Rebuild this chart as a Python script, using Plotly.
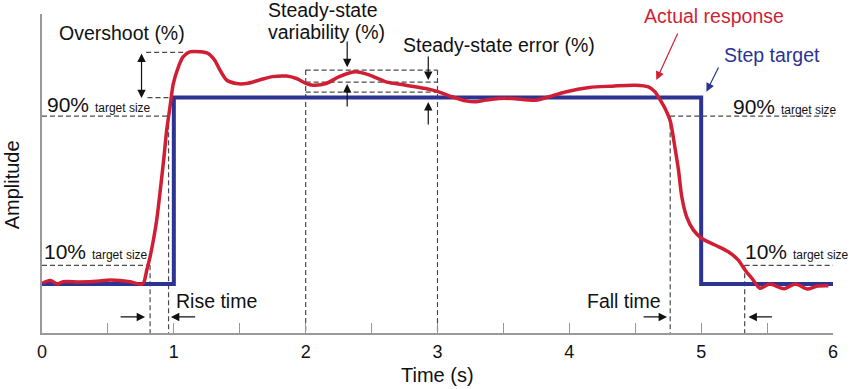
import plotly.graph_objects as go

# ---------------- data ----------------
time_s = [0.005, 0.063, 0.116, 0.161, 0.29, 0.44, 0.517, 0.668, 0.75, 0.77, 0.795, 0.82, 0.845,
          0.87, 0.90, 0.925, 0.946, 0.971, 0.996, 1.035, 1.07, 1.12, 1.20, 1.26, 1.31, 1.35,
          1.40, 1.475, 1.55, 1.65, 1.75, 1.855, 1.93, 2.005, 2.055, 2.155, 2.255, 2.38, 2.485,
          2.61, 2.76, 2.91, 3.01, 3.11, 3.215, 3.29, 3.365, 3.465, 3.565, 3.745, 3.845, 3.97,
          4.15, 4.325, 4.50, 4.60, 4.65, 4.69, 4.727, 4.765, 4.80, 4.828, 4.853, 4.89, 4.94,
          5.005, 5.105, 5.206, 5.28, 5.333, 5.395, 5.445, 5.52, 5.63, 5.715, 5.805, 5.875, 5.965]
response = [0.005, 0.018, 0.0, 0.012, 0.011, 0.016, 0.021, 0.012, -0.002, 0.005, 0.075, 0.147, 0.236,
            0.343, 0.52, 0.68, 0.826, 0.95, 1.075, 1.165, 1.218, 1.245, 1.245, 1.236, 1.20, 1.147,
            1.094, 1.075, 1.075, 1.094, 1.112, 1.115, 1.102, 1.075, 1.066, 1.075, 1.112, 1.138, 1.120,
            1.084, 1.066, 1.048, 1.030, 1.004, 0.982, 0.977, 0.986, 0.995, 0.995, 0.986, 1.004, 1.030,
            1.054, 1.061, 1.066, 1.057, 1.030, 0.986, 0.94, 0.875, 0.736, 0.611, 0.468, 0.36, 0.29,
            0.244, 0.209, 0.173, 0.129, 0.075, 0.021, -0.023, 0.0, -0.025, 0.0, -0.027, -0.012, -0.01]

step_time = [0, 1, 1, 5, 5, 6]
step_amp = [0, 0, 1, 1, 0, 0]

x_tick_vals = [0, 1, 2, 3, 4, 5, 6]
x_tick_text = ["0", "1", "2", "3", "4", "5", "6"]

level_10 = 0.1
level_90 = 0.9
rise_t10, rise_t90 = 0.82, 0.96
fall_t90, fall_t10 = 4.765, 5.33
overshoot_peak = 1.242
overshoot_t0, overshoot_peak_t = 0.79, 1.20
ss_t0, ss_t1 = 2.0, 3.0
ss_max, ss_mid, ss_low = 1.147, 1.083, 1.029

# ---------------- figure ----------------
Y0, Y1 = -0.263, 1.448
RED = "#D01F35"
BLUE = "#2B3393"
DASH_C = "#4a4a4a"
FONT = "Liberation Sans, Arial, Helvetica, sans-serif"

def paper_y(a):
    return (a - Y0) / (Y1 - Y0)

fig = go.Figure()
fig.add_trace(go.Scatter(x=step_time, y=step_amp, mode="lines",
                         line=dict(color=BLUE, width=4), hoverinfo="skip"))
fig.add_trace(go.Scatter(x=time_s, y=response, mode="lines",
                         line=dict(color=RED, width=3.5, shape="spline", smoothing=0.8),
                         hoverinfo="skip"))

shapes = []
def dline(x0, y0, x1, y1):
    shapes.append(dict(type="line", xref="x", yref="y", x0=x0, y0=y0, x1=x1, y1=y1,
                       line=dict(color=DASH_C, width=1.2, dash="5px,3px"), layer="below"))

dline(0, level_90, rise_t90, level_90)
dline(0, level_10, rise_t10, level_10)
dline(rise_t10, level_10, rise_t10, Y0)
dline(rise_t90, level_90, rise_t90, Y0)
dline(overshoot_t0, overshoot_peak, overshoot_peak_t, overshoot_peak)
dline(overshoot_t0 + 0.01, 1.0, 1.0, 1.0)
dline(ss_t0, ss_max, ss_t0, Y0)
dline(ss_t1, ss_max, ss_t1, Y0)
dline(ss_t0, ss_max, ss_t1, ss_max)
dline(ss_t0, ss_mid, ss_t1, ss_mid)
dline(ss_t0, ss_low, ss_t1, ss_low)
dline(fall_t90, level_90, fall_t90, Y0)
dline(fall_t10, level_10, fall_t10, Y0)
dline(fall_t90, level_90, 6, level_90)
dline(fall_t10, level_10, 6, level_10)

annotations = []
def arrow(x0, y0, x1, y1, color="#111111", both=False):
    d = dict(x=x1, y=y1, ax=x0, ay=y0, xref="x", yref="y", axref="x", ayref="y",
             text="", showarrow=True, arrowhead=2, arrowsize=1.4, arrowwidth=1.2,
             arrowcolor=color, standoff=0, startstandoff=0)
    if both:
        d.update(arrowside="end+start", startarrowhead=2, startarrowsize=1.4)
    annotations.append(d)

def label(x, a, text, size=19.5, color="#111111", xanchor="left", xref="x"):
    annotations.append(dict(x=x, y=paper_y(a), xref=xref, yref="paper", text=text,
                            showarrow=False, xanchor=xanchor, yanchor="middle",
                            font=dict(family=FONT, size=size, color=color)))

ts = "<span style='font-size:12px'>target size</span>"

arrow(0.755, 1.244, 0.755, 0.997, both=True)
arrow(0.585, -0.177, 0.782, -0.177)
arrow(1.173, -0.177, 0.978, -0.177)
arrow(4.552, -0.177, 4.741, -0.177)
arrow(5.548, -0.177, 5.359, -0.177)
arrow(2.315, 1.308, 2.315, 1.163)
arrow(2.315, 0.944, 2.315, 1.072)
arrow(2.93, 1.228, 2.93, 1.094)
arrow(2.93, 0.847, 2.93, 0.976)
arrow(4.827, 1.351, 4.66, 1.094, color=RED)
arrow(5.137, 1.169, 5.04, 1.031, color=BLUE)

label(0.116, 1.346, "Overshoot (%)")
label(0.025, 0.960, "90% " + ts, size=21)
label(0.002, 0.172, "10% " + ts, size=21)
label(1.001, -0.091, "Rise time")
label(1.702, 1.469, "Steady-state")
label(1.702, 1.351, "variability (%)")
label(2.726, 1.282, "Steady-state error (%)")
label(4.55, 1.437, "Actual response", color=RED)
label(5.155, 1.228, "Step target", color=BLUE)
label(5.223, 0.954, "90% " + ts, size=21)
label(5.321, 0.172, "10% " + ts, size=21)
label(4.708, -0.091, "Fall time", xanchor="right")
label(3.0, Y0 + (-0.131) * (Y1 - Y0), "Time (s)", size=20, xanchor="center")

annotations.append(dict(x=-0.0375, y=0.464, xref="paper", yref="paper", text="Amplitude",
                        showarrow=False, textangle=-90, xanchor="center", yanchor="middle",
                        font=dict(family=FONT, size=20, color="#111111")))

fig.update_layout(
    width=850, height=389,
    margin=dict(l=42, r=15, t=14, b=56, pad=0),
    paper_bgcolor="white", plot_bgcolor="white",
    showlegend=False,
    shapes=shapes, annotations=annotations,
    font=dict(family=FONT, color="#111111"),
    xaxis=dict(range=[0, 6], tickvals=x_tick_vals, ticktext=x_tick_text,
               ticks="inside", ticklen=10, tickwidth=1.2, tickcolor="#999999",
               showline=True, linecolor="#999999", linewidth=1.5,
               showgrid=False, zeroline=False,
               minor=dict(dtick=0.5, tick0=0, ticks="inside", ticklen=10, tickwidth=1.2,
                          tickcolor="#999999", showgrid=False),
               tickfont=dict(family=FONT, size=18, color="#111111"),
               ticklabelstandoff=2),
    yaxis=dict(range=[Y0, Y1], showticklabels=False, ticks="", showgrid=False,
               zeroline=False, showline=True, linecolor="#999999", linewidth=1.5),
)

fig.write_html("out.html", config={"displayModeBar": False},
               post_script="document.body.style.margin='0px';document.body.style.padding='0px';document.body.style.overflow='hidden';")
